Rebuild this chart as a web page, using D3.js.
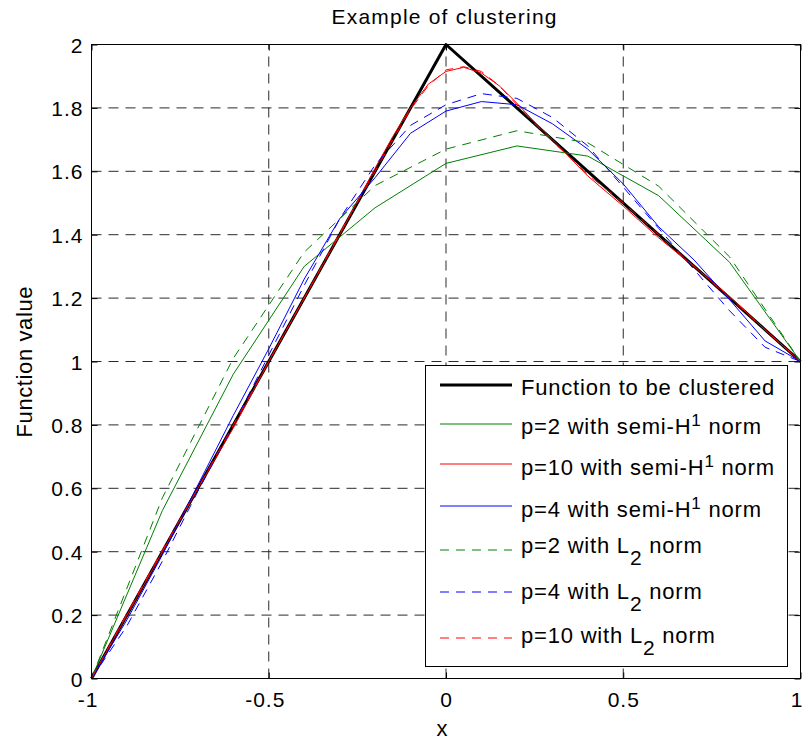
<!DOCTYPE html>
<html>
<head>
<meta charset="utf-8">
<script src="https://cdn.jsdelivr.net/npm/d3@7"></script>
<style>
  body { margin: 0; background: #fff; }
  text { font-family: "Liberation Sans", Arial, Helvetica, sans-serif; fill: #000; }
</style>
</head>
<body>
<svg id="chart" width="802" height="742"></svg>
<script>
// ---- data ----
const xTicks = [-1, -0.5, 0, 0.5, 1];
const yTicks = [0, 0.2, 0.4, 0.6, 0.8, 1, 1.2, 1.4, 1.6, 1.8, 2];

// the piecewise-linear hat function being clustered
const targetX = [-1, 0, 1];
const targetY = [0, 2, 1];

// p = 2 reconstructions (nodes every 0.2)
const xCoarse = [-1, -0.8, -0.6, -0.4, -0.2, 0, 0.2, 0.4, 0.6, 0.8, 1];
const p2SemiH1 = [0, 0.53, 0.96, 1.30, 1.485, 1.625, 1.68, 1.648, 1.523, 1.313, 1.0];
const p2L2     = [0, 0.57, 1.01, 1.345, 1.555, 1.67, 1.728, 1.69, 1.553, 1.33, 1.0];

// p = 4 reconstructions (nodes every 0.1)
const xFine = [-1, -0.9, -0.8, -0.7, -0.6, -0.5, -0.4, -0.3, -0.2, -0.1, 0,
               0.1, 0.2, 0.3, 0.4, 0.5, 0.6, 0.7, 0.8, 0.9, 1];
const p4SemiH1 = [0, 0.185, 0.39, 0.61, 0.83, 1.04, 1.26, 1.45, 1.58, 1.72, 1.79,
                  1.82, 1.81, 1.75, 1.67, 1.56, 1.425, 1.32, 1.195, 1.065, 1.0];
const p4L2     = [0, 0.166, 0.37, 0.59, 0.80, 1.02, 1.24, 1.45, 1.62, 1.745, 1.81,
                  1.845, 1.83, 1.77, 1.68, 1.55, 1.42, 1.29, 1.16, 1.045, 1.0];

// p = 10 reconstructions (refined around the peak)
const xPeak = [-1, -0.9, -0.8, -0.7, -0.6, -0.5, -0.4, -0.3, -0.2, -0.15, -0.1, -0.05, 0,
               0.05, 0.1, 0.15, 0.2, 0.25, 0.3, 0.4, 0.5, 0.6, 0.7, 0.8, 0.9, 1];
const p10SemiH1 = [0, 0.2, 0.4, 0.6, 0.79, 1.0, 1.2, 1.4, 1.61, 1.71, 1.80, 1.875, 1.915,
                   1.928, 1.91, 1.87, 1.815, 1.755, 1.70, 1.585, 1.49, 1.39, 1.30, 1.205, 1.10, 1.0];
const p10L2     = [0, 0.205, 0.405, 0.6, 0.8, 1.0, 1.2, 1.405, 1.60, 1.70, 1.795, 1.87, 1.92,
                   1.93, 1.915, 1.87, 1.81, 1.75, 1.695, 1.59, 1.50, 1.40, 1.30, 1.20, 1.10, 1.0];

const seriesLabels = [
  "Function to be clustered",
  "p=2 with semi-H^{1} norm",
  "p=10 with semi-H^{1} norm",
  "p=4 with semi-H^{1} norm",
  "p=2 with L_{2} norm",
  "p=4 with L_{2} norm",
  "p=10 with L_{2} norm"
];

// ---- series table (data + styles) ----
const series = [
  { label: seriesLabels[0], xs: targetX, ys: targetY,   color: "#000000", width: 3, dash: null },
  { label: seriesLabels[1], xs: xCoarse, ys: p2SemiH1,  color: "#008000", width: 1, dash: null },
  { label: seriesLabels[2], xs: xPeak,   ys: p10SemiH1, color: "#ff0000", width: 1, dash: null },
  { label: seriesLabels[3], xs: xFine,   ys: p4SemiH1,  color: "#0000ff", width: 1, dash: null },
  { label: seriesLabels[4], xs: xCoarse, ys: p2L2,      color: "#008000", width: 1, dash: "9,7" },
  { label: seriesLabels[5], xs: xFine,   ys: p4L2,      color: "#0000ff", width: 1, dash: "9,7" },
  { label: seriesLabels[6], xs: xPeak,   ys: p10L2,     color: "#ff0000", width: 1, dash: "9,7" }
];

// ---- layout ----
const svg = d3.select("#chart");
const pLeft = 91.5, pRight = 800.5, pTop = 44.5, pBottom = 678.5;
const x = d3.scaleLinear().domain([-1, 1]).range([pLeft, pRight]);
const y = d3.scaleLinear().domain([0, 2]).range([pBottom, pTop]);

// grid
const grid = svg.append("g").attr("stroke", "#2a2a2a").attr("stroke-width", 1)
  .attr("stroke-dasharray", "10,7").attr("fill", "none");
grid.selectAll("line.vx").data(xTicks.slice(1, -1)).join("line").attr("class", "vx")
  .attr("x1", d => x(d)).attr("x2", d => x(d)).attr("y1", pBottom).attr("y2", pTop);
grid.selectAll("line.hy").data(yTicks.slice(1, -1)).join("line").attr("class", "hy")
  .attr("y1", d => y(d)).attr("y2", d => y(d)).attr("x1", pLeft).attr("x2", pRight);

// curves
const line = d3.line().x(d => x(d[0])).y(d => y(d[1]));
svg.append("g").selectAll("path").data(series).join("path")
  .attr("d", s => line(s.xs.map((v, i) => [v, s.ys[i]])))
  .attr("fill", "none")
  .attr("stroke", s => s.color)
  .attr("stroke-width", s => s.width)
  .attr("stroke-linejoin", "round")
  .attr("stroke-dasharray", s => s.dash);

// axes box with inward ticks on all four sides
const tickLen = 6;
const fmt = d => (d === 0 ? "0" : String(d));
const gxb = svg.append("g").attr("transform", `translate(0,${pBottom})`)
  .call(d3.axisBottom(x).tickValues(xTicks).tickSizeInner(-tickLen).tickSizeOuter(0).tickFormat(fmt));
const gxt = svg.append("g").attr("transform", `translate(0,${pTop})`)
  .call(d3.axisTop(x).tickValues(xTicks).tickSizeInner(-tickLen).tickSizeOuter(0).tickFormat(""));
const gyl = svg.append("g").attr("transform", `translate(${pLeft},0)`)
  .call(d3.axisLeft(y).tickValues(yTicks).tickSizeInner(-tickLen).tickSizeOuter(0).tickFormat(fmt));
const gyr = svg.append("g").attr("transform", `translate(${pRight},0)`)
  .call(d3.axisRight(y).tickValues(yTicks).tickSizeInner(-tickLen).tickSizeOuter(0).tickFormat(""));
[gxb, gxt, gyl, gyr].forEach(g => {
  g.select(".domain").remove();
  g.selectAll(".tick line").attr("stroke", "#000");
  g.attr("font-family", null).attr("font-size", null);
  g.selectAll(".tick text").attr("font-size", 21).style("letter-spacing", "1px").attr("fill", "#000");
});
// x labels: negative ones nudged left, the last one kept inside the page
gxb.selectAll(".tick text").attr("y", 28.5).attr("dy", null)
  .attr("dx", d => (d < 0 ? -4 : d === 1 ? -4 : 0));
gyl.selectAll(".tick text").attr("x", -8).attr("dy", 7.5);

svg.append("rect").attr("x", pLeft).attr("y", pTop)
  .attr("width", pRight - pLeft).attr("height", pBottom - pTop)
  .attr("fill", "none").attr("stroke", "#000").attr("stroke-width", 1);

// titles
svg.append("text").attr("x", 444).attr("y", 24).attr("text-anchor", "middle")
  .attr("font-size", 21).attr("textLength", 225).attr("lengthAdjust", "spacing")
  .text("Example of clustering");
svg.append("text").attr("x", 442).attr("y", 736).attr("text-anchor", "middle")
  .attr("font-size", 22).text("x");
svg.append("text").attr("transform", "translate(32,362) rotate(-90)")
  .attr("text-anchor", "middle").attr("font-size", 22)
  .attr("textLength", 151).attr("lengthAdjust", "spacing")
  .text("Function value");

// legend
const legendBox = { x0: 425.5, y0: 365.5, x1: 787.5, y1: 666.5 };
const rowLine = [385, 424, 464, 506, 550, 592, 638];
const rowBase = [394.5, 434, 475, 517, 553, 599, 643];
const lg = svg.append("g");
lg.append("rect").attr("x", legendBox.x0).attr("y", legendBox.y0)
  .attr("width", legendBox.x1 - legendBox.x0).attr("height", legendBox.y1 - legendBox.y0)
  .attr("fill", "#fff").attr("stroke", "#000").attr("stroke-width", 1);

series.forEach((s, i) => {
  lg.append("line").attr("x1", 440).attr("x2", 512)
    .attr("y1", rowLine[i]).attr("y2", rowLine[i])
    .attr("stroke", s.color).attr("stroke-width", s.width)
    .attr("stroke-dasharray", s.dash);
  const t = lg.append("text").attr("x", 521).attr("y", rowBase[i])
    .attr("font-size", 22).style("letter-spacing", "0.8px");
  // simple TeX-like markup: ^{..} superscript, _{..} subscript
  const parts = s.label.split(/(\^\{[^}]*\}|_\{[^}]*\})/).filter(p => p.length);
  let shift = 0;
  parts.forEach(p => {
    let target = 0, txt = p, size = null;
    if (p.startsWith("^{")) { target = -8; txt = p.slice(2, -1); size = 17; }
    else if (p.startsWith("_{")) { target = 12; txt = p.slice(2, -1); size = 21; }
    const ts = t.append("tspan").attr("dy", target - shift).text(txt);
    if (size) ts.attr("font-size", size);
    shift = target;
  });
});
</script>
</body>
</html>
